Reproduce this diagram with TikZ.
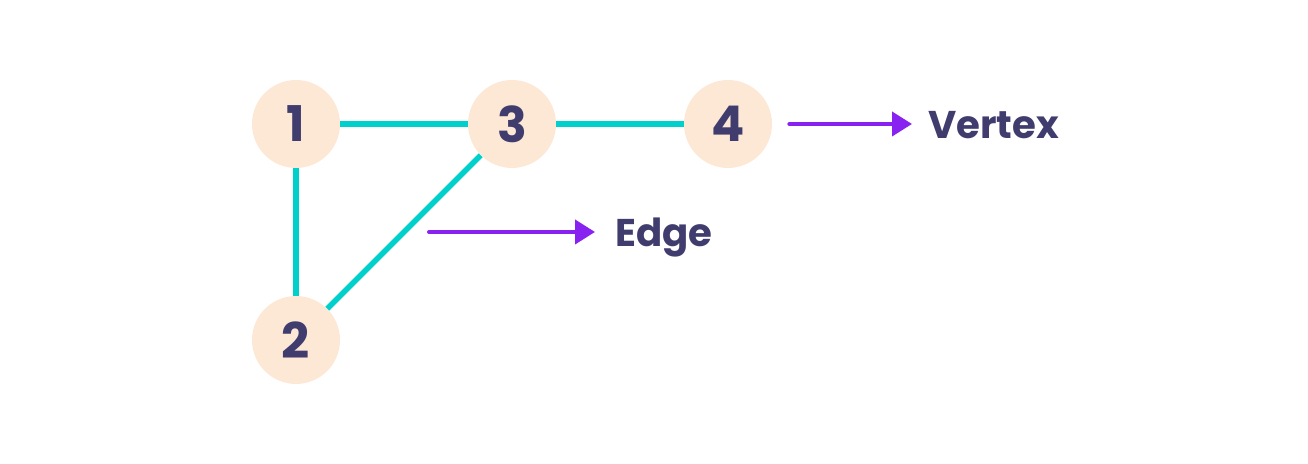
\documentclass[tikz,border=0pt]{standalone}
\usepackage{fontspec}
\setmainfont{Poppins}
\usepackage{tikz}
\usetikzlibrary{arrows.meta,positioning}
\tikzstyle{vert} = [circle, minimum size=1.76cm, inner sep=0pt, fill=peach, text=ink, font=\fontsize{28}{30}\selectfont\bfseries]
\tikzstyle{link} = [line width=0.11cm, draw=teal]
\tikzstyle{label} = [anchor=west, inner sep=0pt, text height=0.58cm, text depth=0pt, text=ink, font=\fontsize{22}{26}\selectfont\bfseries]
\tikzstyle{pointer} = [line width=0.08cm, line cap=round, draw=violet, -{Triangle[length=0.4cm,width=0.48cm]}]
\definecolor{peach}{RGB}{253,232,214}
\definecolor{ink}{RGB}{64,61,110}
\definecolor{teal}{RGB}{0,208,204}
\definecolor{violet}{RGB}{136,34,240}

\begin{document}
\begin{tikzpicture}
\useasboundingbox (0,0) rectangle (26.16,9.28);
\node (one) [vert] at (5.92,6.80) {1};
\node (three) [vert, right of=one, node distance=4.32cm] {3};
\node (four) [vert, right of=three, node distance=4.32cm] {4};
\node (two) [vert, below of=one, node distance=4.32cm] {2};
\draw[link] (one) -- (three);
\draw[link] (three) -- (four);
\draw[link] (one) -- (two);
\draw[link] (two) -- (three);
\node (vertex) [label] at (18.56,6.80) {Vertex};
\node (edge) [label] at (12.30,4.64) {Edge};
\coordinate (estart) at (8.58,4.64);
\draw[pointer] ([xshift=0.34cm]four.east) -- ([xshift=-0.32cm]vertex.west);
\draw[pointer] (estart) -- ([xshift=-0.40cm]edge.west);
\end{tikzpicture}
\end{document}
